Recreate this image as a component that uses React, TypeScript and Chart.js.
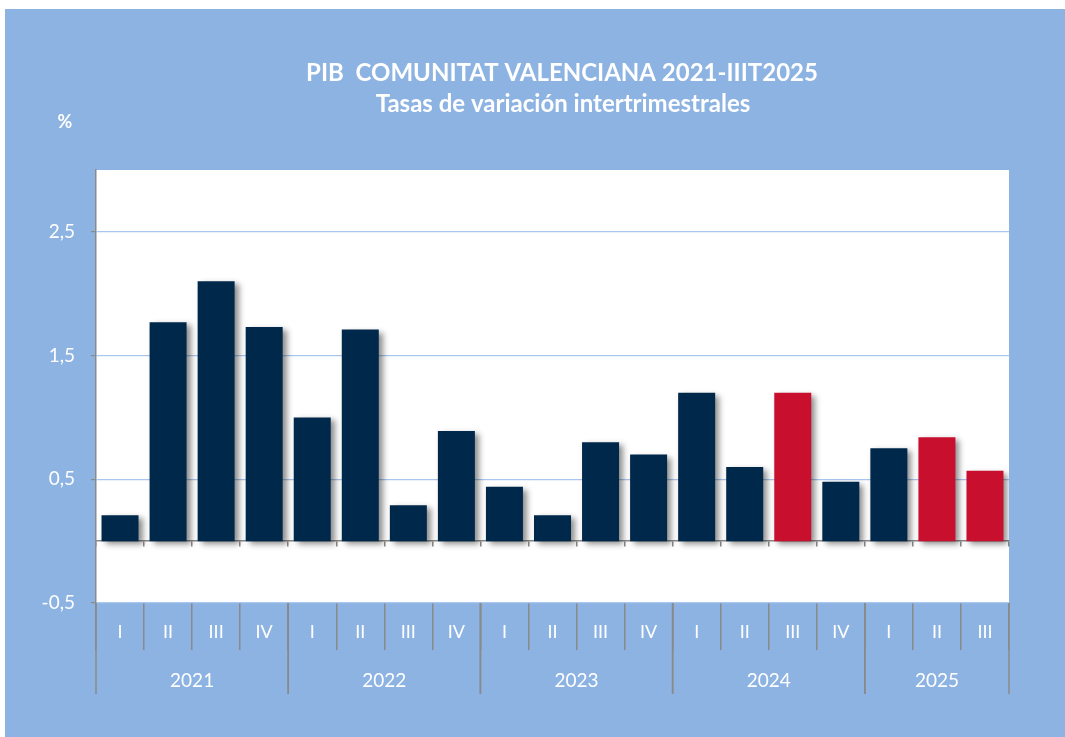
import React, { useEffect, useRef } from "react";
import { Chart, registerables } from "chart.js";

Chart.register(...registerables);

const quarters = ["I", "II", "III", "IV", "I", "II", "III", "IV", "I", "II", "III", "IV", "I", "II", "III", "IV", "I", "II", "III"];
const years = ["2021", "2022", "2023", "2024", "2025"];
const quartersPerYear = [4, 4, 4, 4, 3];
const values = [0.21, 1.77, 2.1, 1.73, 1.0, 1.71, 0.29, 0.89, 0.44, 0.21, 0.8, 0.7, 1.2, 0.6, 1.2, 0.48, 0.75, 0.84, 0.57];
const highlighted = [false, false, false, false, false, false, false, false, false, false, false, false, false, false, true, false, false, true, true];
const yTicks = [-0.5, 0.5, 1.5, 2.5];
const titleLines = ["PIB  COMUNITAT VALENCIANA 2021-IIIT2025", "Tasas de variación intertrimestrales"];
const unitLabel = "%";

const NAVY = "#00284A";
const RED = "#C8102E";
const BG = "#8DB3E2";
const AXIS_GRAY = "#8A8A8A";
const GRID = "#A9C6EE";
const FONT = "Lato, 'Open Sans', sans-serif";

export default function App() {
  const ref = useRef<HTMLCanvasElement | null>(null);

  useEffect(() => {
    if (!ref.current) return;

    const backgroundPlugin = {
      id: "bgPlugin",
      beforeDraw(chart: any) {
        const { ctx, chartArea } = chart;
        ctx.save();
        ctx.fillStyle = "#ffffff";
        ctx.fillRect(0, 0, chart.width, chart.height);
        ctx.fillStyle = BG;
        ctx.fillRect(5, 9, chart.width - 5, chart.height - 9);
        ctx.fillStyle = "#ffffff";
        ctx.fillRect(chartArea.left, chartArea.top, chartArea.right - chartArea.left, chartArea.bottom - chartArea.top);
        ctx.restore();
      },
      afterDraw(chart: any) {
        const { ctx, chartArea } = chart;
        const x = chart.scales.x;
        ctx.save();
        // titles
        ctx.fillStyle = "#ffffff";
        ctx.textAlign = "center";
        ctx.textBaseline = "middle";
        ctx.font = `bold 24px ${FONT}`;
        ctx.fillText(titleLines[0], 562, 73);
        ctx.fillText(titleLines[1], 563, 104);
        ctx.font = `bold 18px ${FONT}`;
        ctx.fillText(unitLabel, 65, 122);
        // year groups
        const qTop = chartArea.bottom;
        const qBottom = chartArea.bottom + 47;
        const yBottom = chartArea.bottom + 91;
        ctx.strokeStyle = AXIS_GRAY;
        ctx.lineWidth = 1.5;
        ctx.font = `19px ${FONT}`;
        let start = 0;
        for (let g = 0; g < years.length; g++) {
          const end = start + quartersPerYear[g] - 1;
          const left = start === 0 ? chartArea.left : (x.getPixelForValue(start - 1) + x.getPixelForValue(start)) / 2;
          const right = end === quarters.length - 1 ? chartArea.right : (x.getPixelForValue(end) + x.getPixelForValue(end + 1)) / 2;
          ctx.beginPath();
          ctx.moveTo(left, qTop);
          ctx.lineTo(left, yBottom);
          ctx.moveTo(right, qTop);
          ctx.lineTo(right, yBottom);
          ctx.stroke();
          ctx.fillText(years[g], (left + right) / 2, qBottom + 31);
          start = end + 1;
        }
        ctx.restore();
      },
    };

    const shadowPlugin = {
      id: "shadowPlugin",
      beforeDatasetsDraw(chart: any) {
        const ctx = chart.ctx;
        ctx.save();
        ctx.shadowColor = "rgba(0,0,0,0.45)";
        ctx.shadowBlur = 6;
        ctx.shadowOffsetX = 4;
        ctx.shadowOffsetY = 3;
      },
      afterDatasetsDraw(chart: any) {
        chart.ctx.restore();
      },
    };

    const chart = new Chart(ref.current, {
      type: "bar",
      data: {
        labels: quarters,
        datasets: [
          {
            data: values,
            backgroundColor: highlighted.map((h) => (h ? RED : NAVY)),
            borderWidth: 0,
            barPercentage: 0.77,
            categoryPercentage: 1,
          },
        ],
      },
      options: {
        responsive: false,
        animation: false,
        layout: { padding: { left: 0, top: 170, right: 56, bottom: 0 } },
        plugins: {
          legend: { display: false },
          title: { display: false },
          tooltip: { enabled: false },
        },
        scales: {
          x: {
            type: "category",
            offset: true,
            border: { display: false },
            grid: {
              offset: true,
              drawOnChartArea: false,
              drawTicks: true,
              tickLength: 47,
              color: AXIS_GRAY,
              lineWidth: 1.5,
            },
            ticks: {
              color: "#ffffff",
              font: { family: FONT, size: 18 },
              padding: -29,
              maxRotation: 0,
              autoSkip: false,
            },
            afterFit(scale: any) {
              scale.height = 134;
            },
          },
          x2: {
            type: "category",
            position: { y: 0 } as any,
            offset: true,
            border: { display: true, color: AXIS_GRAY, width: 1.5 },
            grid: {
              offset: true,
              drawOnChartArea: false,
              drawTicks: true,
              tickLength: 5,
              color: AXIS_GRAY,
              lineWidth: 1.5,
            },
            ticks: { display: false },
          },
          y: {
            min: -0.5,
            max: 3,
            afterBuildTicks(scale: any) {
              scale.ticks = yTicks.map((v) => ({ value: v }));
            },
            afterFit(scale: any) {
              scale.width = 96;
            },
            border: { display: true, color: AXIS_GRAY, width: 1.5 },
            grid: {
              color: GRID,
              lineWidth: 1.2,
              tickColor: AXIS_GRAY,
              tickLength: 5,
            },
            ticks: {
              color: "#ffffff",
              font: { family: FONT, size: 19 },
              padding: 16,
              callback: (v: any) => String(v).replace(".", ","),
            },
          },
        },
      },
      plugins: [backgroundPlugin, shadowPlugin],
    });

    return () => chart.destroy();
  }, []);

  return (
    <div style={{ position: "absolute", left: 0, top: 0, width: 1065, height: 737, background: "#ffffff" }}>
      <canvas ref={ref} width={1065} height={737} style={{ display: "block", width: 1065, height: 737 }} />
    </div>
  );
}
